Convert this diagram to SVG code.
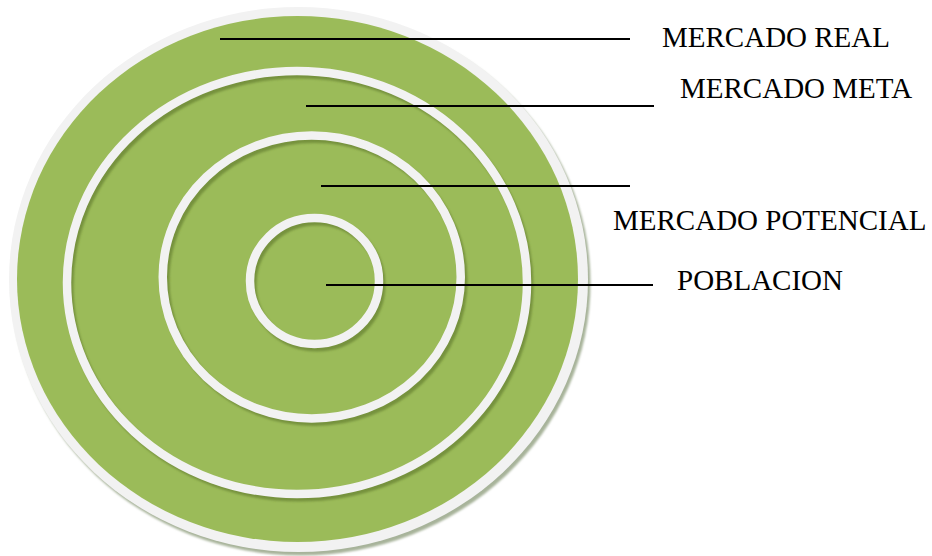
<svg xmlns="http://www.w3.org/2000/svg" width="932" height="556" viewBox="0 0 932 556">
  <defs>
    <filter id="soft" x="-10%" y="-10%" width="120%" height="120%">
      <feGaussianBlur stdDeviation="1.2"/>
    </filter>
  </defs>
  <style>
    .ring { fill: none; stroke: #f2f2f2; stroke-width: 8.5; }
    .shadow { fill: none; stroke: #76923c; stroke-width: 8; filter: url(#soft); }
    .lbl { font-family: "Liberation Serif", "Times New Roman", serif; font-size: 29px; fill: #000000; }
    .conn { stroke: #000000; stroke-width: 2; }
  </style>
  <rect width="932" height="556" fill="#ffffff"/>

  <g id="mercado-real">
    <ellipse cx="301" cy="283" rx="289.5" ry="272.5" fill="#a7b39a" filter="url(#soft)"/>
    <ellipse cx="298.5" cy="279.5" rx="289.5" ry="272.5" fill="#f2f2f2"/>
    <ellipse cx="297.5" cy="279" rx="280.5" ry="263" fill="#9bbb59"/>
  </g>

  <g id="mercado-meta">
    <ellipse class="shadow" cx="299.5" cy="286" rx="230" ry="211.5"/>
    <ellipse class="ring" cx="297" cy="282.5" rx="230" ry="211.5"/>
  </g>

  <g id="mercado-potencial">
    <ellipse class="shadow" cx="314.5" cy="280.5" rx="149" ry="141.5"/>
    <ellipse class="ring" cx="311.75" cy="277" rx="149" ry="141.5"/>
  </g>

  <g id="poblacion">
    <ellipse class="shadow" cx="317" cy="284.5" rx="64.5" ry="63"/>
    <ellipse class="ring" cx="314.5" cy="281" rx="64.5" ry="63"/>
  </g>

  <g id="connectors">
    <line class="conn" x1="220" y1="39" x2="630" y2="39"/>
    <line class="conn" x1="306" y1="106" x2="654" y2="106"/>
    <line class="conn" x1="321" y1="186" x2="630" y2="186"/>
    <line class="conn" x1="326" y1="285" x2="653" y2="285"/>
  </g>

  <g id="labels">
    <text class="lbl" x="662" y="47">MERCADO REAL</text>
    <text class="lbl" x="680" y="98">MERCADO META</text>
    <text class="lbl" x="613" y="230">MERCADO POTENCIAL</text>
    <text class="lbl" x="677" y="290">POBLACION</text>
  </g>
</svg>
